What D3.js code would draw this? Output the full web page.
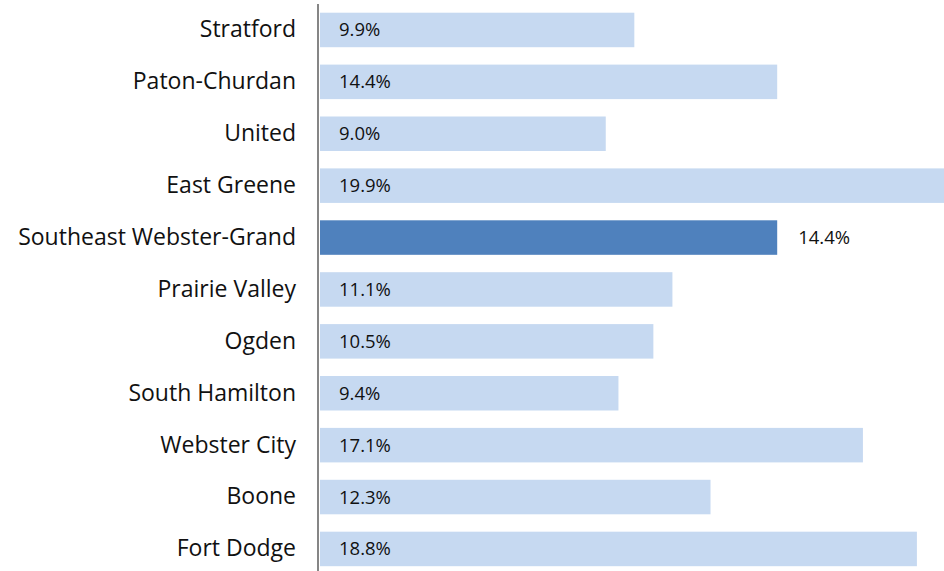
<!DOCTYPE html>
<html>
<head>
<meta charset="utf-8">
<script src="https://cdn.jsdelivr.net/npm/d3@7"></script>
<style>
  body { margin: 0; background: #fff; }
  svg { display: block; }
  .cat text { font-family: 'Open Sans', sans-serif; font-size: 23px; fill: #111; }
  .val { font-family: 'Open Sans', sans-serif; font-size: 18.5px; fill: #111; }
</style>
</head>
<body>
<svg id="chart" width="944" height="571"></svg>
<script>
// districts, top to bottom
let districts = ['Stratford', 'Paton-Churdan', 'United', 'East Greene', 'Southeast Webster-Grand',
  'Prairie Valley', 'Ogden', 'South Hamilton', 'Webster City', 'Boone', 'Fort Dodge'];
let rates = [9.9, 14.4, 9.0, 19.9, 14.4, 11.1, 10.5, 9.4, 17.1, 12.3, 18.8];
let highlight = 'Southeast Webster-Grand';

let svg = d3.select('#chart');

// scales
let xScale = d3.scaleLinear().domain([0, 20]).range([320, 955]);
let yScale = d3.scaleBand().domain(districts).range([12.7, 566.2]).paddingInner(0.335).paddingOuter(0);

let data = districts.map(function(d, i) { return {name: d, value: rates[i]}; });

// bars
svg.selectAll('.bar')
  .data(data)
  .enter().append('rect')
  .attr('class', 'bar')
  .attr('x', xScale(0))
  .attr('y', function(d) { return yScale(d.name); })
  .attr('width', function(d) { return xScale(d.value) - xScale(0); })
  .attr('height', yScale.bandwidth())
  .attr('fill', function(d) { return d.name == highlight ? '#4F81BD' : '#C6D9F1'; });

// value labels: inside for normal bars, outside for highlighted one
svg.selectAll('.val')
  .data(data)
  .enter().append('text')
  .attr('class', 'val')
  .attr('x', function(d) { return d.name == highlight ? xScale(d.value) + 21 : xScale(0) + 19; })
  .attr('y', function(d) { return yScale(d.name) + yScale.bandwidth() / 2; })
  .attr('dy', '0.35em')
  .text(function(d) { return d.value.toFixed(1) + '%'; });

// category axis
let yAxis = d3.axisLeft(yScale).tickSize(0).tickPadding(22);
svg.append('g')
  .attr('class', 'cat')
  .attr('transform', 'translate(318,0)')
  .call(yAxis)
  .call(function(g) { g.select('.domain').remove(); });

// axis line
svg.append('line')
  .attr('x1', 318).attr('x2', 318)
  .attr('y1', 4).attr('y2', 571)
  .attr('stroke', '#868686')
  .attr('stroke-width', 2);
</script>
</body>
</html>
